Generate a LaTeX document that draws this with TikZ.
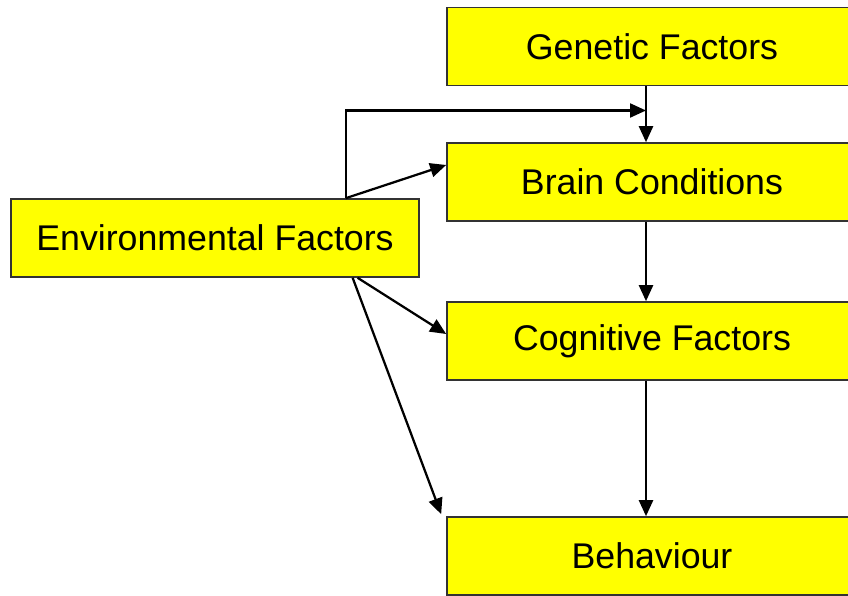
\documentclass[tikz,border=0pt]{standalone}
\usepackage{fontspec}
\setmainfont{Liberation Sans}
\usetikzlibrary{arrows.meta,calc}
\definecolor{BoxFill}{HTML}{FFFF00}
\definecolor{BoxLine}{HTML}{333333}
\tikzset{
  factor/.style={draw=BoxLine,fill=BoxFill,line width=1.1pt,minimum height=1.95cm,inner sep=0pt,font=\fontsize{25.4}{30}\selectfont},
  link/.style={-{Triangle[length=.4cm,width=.35cm]},draw=black,line width=1.6pt}
}
\begin{document}
\begin{tikzpicture}[x=.025cm,y=-.025cm]
      \clip (0,0) rectangle (848,596);
      \fill[white] (0,0) rectangle (848,596);
      \node[factor,minimum width=10.2cm] (env) at (215,238) {Environmental Factors};
      \node[factor,minimum width=10.25cm] (gen) at (652,46.5) {Genetic Factors};
      \node[factor,minimum width=10.25cm] (brain) at (652,182) {Brain Conditions};
      \node[factor,minimum width=10.25cm] (cog) at (652,341) {Cognitive Factors};
      \node[factor,minimum width=10.25cm] (behav) at (652,556) {Behaviour};
      \coordinate (tap) at (646,110.5);
      \coordinate (foot) at ($(env.north west)!.819!(env.north east)$);

      \draw[link] (foot) |- (tap);
      \draw[link] (gen.south -| tap) -- (brain.north -| tap);
      \draw[link] (brain.south -| tap) -- (cog.north -| tap);
      \draw[link] (cog.south -| tap) -- (behav.north -| tap);
      \draw[link] (foot) -- ($(brain.west)+(0,-17)$);
      \draw[link] ($(env.south west)!.848!(env.south east)$) -- ($(cog.west)+(0,-7)$);
      \draw[link] ($(env.south west)!.836!(env.south east)$) -- ($(behav.north west)+(-5,-2)$);
    \end{tikzpicture}
\end{document}
